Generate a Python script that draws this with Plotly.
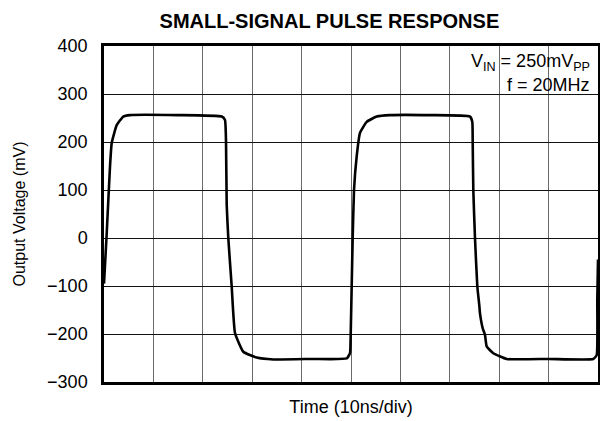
import plotly.graph_objects as go

# Waveform (time in ns, 10 ns/div; output in mV)
t_ns = [0.0, 0.55, 1.21, 1.56, 2.57, 3.9, 5.26, 15.0, 23.83, 24.49, 24.70, 24.84, 25.16, 25.85,
        26.52, 28.20, 30.91, 34.27, 42.0, 49.13, 49.80, 49.94, 50.14, 50.34, 50.61, 51.15,
        51.82, 53.18, 55.20, 57.89, 66.0, 74.09, 74.55, 74.64, 74.76, 75.10, 75.57, 75.97,
        76.11, 76.66, 77.13, 77.47, 78.81, 81.52, 90.0, 99.05, 99.74, 99.86, 100.0]
v_mv = [-95, 10, 148, 198, 235, 253, 256, 256, 253, 246, 200, 69, 0, -101,
        -198, -237, -249, -253, -252, -251, -240, -200, -100, 0, 100, 170,
        219, 242, 253, 256, 256, 253, 242, 197, 100, 0, -101, -140,
        -157, -188, -202, -226, -240, -252, -252, -252, -244, -129, -45]

y_ticks = [-300, -200, -100, 0, 100, 200, 300, 400]
x_grid = [0, 10, 20, 30, 40, 50, 60, 70, 80, 90, 100]

title_text = "SMALL-SIGNAL PULSE RESPONSE"
x_title = "Time (10ns/div)"
y_title = "Output Voltage (mV)"
note_lines = ["V<sub>IN</sub> = 250mV<sub>PP</sub>", "f = 20MHz"]

FONT = "Liberation Sans, Arial, Helvetica, sans-serif"

fig = go.Figure()
fig.add_trace(go.Scatter(x=t_ns, y=v_mv, mode="lines",
                         line=dict(color="black", width=2.6, shape="spline", smoothing=0.4),
                         hoverinfo="skip", showlegend=False))

fig.update_layout(
    width=600, height=421,
    margin=dict(l=104, r=2, t=46, b=39),
    paper_bgcolor="white", plot_bgcolor="white",
    font=dict(family=FONT, size=17, color="black"),
    title=dict(text="<b>" + title_text + "</b>", xref="container", x=0.549, xanchor="center",
               yref="container", y=0.95, yanchor="middle",
               font=dict(family=FONT, size=20, color="black")),
    xaxis=dict(range=[0, 100], tickvals=x_grid, showticklabels=False, ticks="",
               showgrid=True, gridcolor="#6a6a6a", gridwidth=1, zeroline=False,
               showline=True, linecolor="black", linewidth=2.5, mirror=True,
               automargin=False,
               title=dict(text=x_title, standoff=17, font=dict(size=18))),
    yaxis=dict(range=[-300, 400], tickvals=y_ticks, ticks="",
               ticklabelstandoff=10, automargin=False,
               showgrid=True, gridcolor="#111111", gridwidth=1, zeroline=False,
               showline=True, linecolor="black", linewidth=2.5, mirror=True,
               title=dict(text=y_title, standoff=18, font=dict(size=16)),
               tickfont=dict(size=18)),
    shapes=[dict(type="rect", xref="x", yref="y", x0=72.1, x1=100, y0=292, y1=400,
                 fillcolor="white", line=dict(width=0), layer="below")],
    annotations=[
        dict(text=note_lines[0], xref="paper", yref="paper", x=0.9875, y=0.95,
             xanchor="right", yanchor="middle", showarrow=False, font=dict(size=18)),
        dict(text=note_lines[1], xref="paper", yref="paper", x=0.9875, y=0.884,
             xanchor="right", yanchor="middle", showarrow=False, font=dict(size=18)),
    ],
)

fig.write_html("out.html", post_script="document.body.style.margin='0';",
               config={"displayModeBar": False})
